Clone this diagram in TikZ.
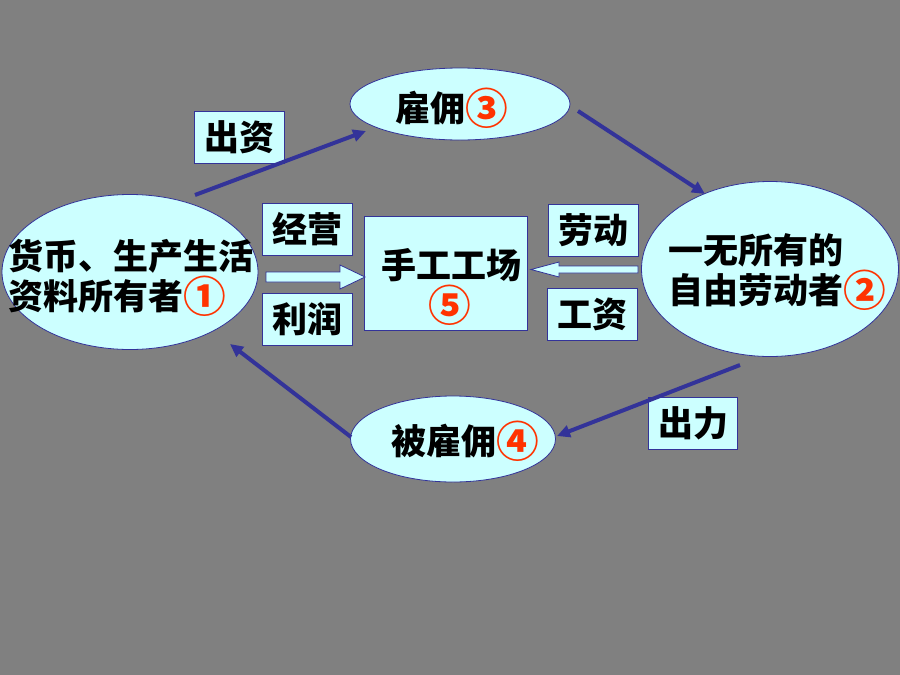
\documentclass[tikz,border=0pt]{standalone}
\usepackage{fontspec}
\setmainfont{Noto Sans CJK SC}
\usetikzlibrary{shapes.geometric,arrows.meta}
\definecolor{bg}{HTML}{808080}
\definecolor{pale}{HTML}{CCFFFF}
\definecolor{navy}{HTML}{333399}
\definecolor{numred}{HTML}{FF3300}
\tikzset{
  ell/.style={ellipse, draw=navy, line width=0.8pt, fill=pale, inner sep=0pt},
  lbox/.style={draw=navy, line width=0.8pt, fill=pale, inner sep=0pt, minimum width=90pt, minimum height=52pt},
  txt/.style={inner sep=0pt, font=\fontsize{35}{40}\selectfont\bfseries, text=black},
  flow/.style={draw=navy, line width=4pt, -{Triangle[length=13pt,width=12pt]}, shorten >=0pt},
  hollow/.style={draw=navy, line width=0.8pt, fill=pale, line join=miter}
}
\newcommand{\cn}[1]{\raisebox{-0.09em}{\scalebox{1.22}{\textcolor{numred}{#1}}}}
\begin{document}
\begin{tikzpicture}[x=1pt,y=-1pt]
\fill[bg] (0,0) rectangle (900,675);
\useasboundingbox (0,0) rectangle (900,675);

% ellipses
\node[ell, minimum width=256pt, minimum height=155pt] (own) at (130,272) {};
\node[ell, minimum width=257pt, minimum height=175pt] (free) at (770,269) {};
\node[ell, minimum width=220pt, minimum height=72pt] (hire) at (460,104) {};
\node[ell, minimum width=205pt, minimum height=86pt] (hired) at (453,439) {};

% ellipse texts
\node[txt, align=left] (ownT) at (131,278) {货币、生产生活\\资料所有者\cn{①}};
\node[txt, align=left] (freeT) at (777,272) {一无所有的\\自由劳动者\cn{②}};
\node[txt] (hireT) at (452,108) {雇佣\cn{③}};
\node[txt] (hiredT) at (465,441) {被雇佣\cn{④}};

% centre box
\node[draw=navy, line width=0.8pt, fill=pale, minimum width=163pt, minimum height=114pt, inner sep=0pt] (shop) at (446,273) {};
\node[txt] (shopT) at (451,265) {手工工场};
\node[txt] (shopN) at (450,305) {\cn{⑤}};

% label boxes
\node[lbox] (jy) at (307,229) {};
\node[txt] at (jy) {经营};
\node[lbox] (lr) at (307,319) {};
\node[txt] at (lr) {利润};
\node[lbox] (cz) at (239,137) {};
\node[txt] at (cz) {出资};
\node[lbox] (ld) at (593,230) {};
\node[txt] at (ld) {劳动};
\node[lbox] (gz) at (592,314) {};
\node[txt] at (gz) {工资};
\node[lbox, minimum width=89pt] (cl) at (693,423) {};
\node[txt] at (cl) {出力};

% flow arrows
\coordinate (a1s) at (195,195);
\coordinate (a1e) at (366,131);
\coordinate (a2s) at (578,111);
\coordinate (a2e) at (705,194);
\coordinate (a3s) at (740,365);
\coordinate (a3e) at (557,436);
\coordinate (a4s) at (351,437);
\coordinate (a4e) at (230,344);
\draw[flow] (a1s) -- (a1e);
\draw[flow] (a2s) -- (a2e);
\draw[flow] (a3s) -- (a3e);
\draw[flow] (a4s) -- (a4e);

% hollow arrows
\draw[hollow] (266,272) -- (340,272) -- (340,265) -- (365,277) -- (340,289) -- (340,282) -- (266,282) -- cycle;
\draw[hollow] (638,266) -- (559,266) -- (559,262) -- (531,269.5) -- (559,277) -- (559,273) -- (638,273) -- cycle;
\end{tikzpicture}
\end{document}
